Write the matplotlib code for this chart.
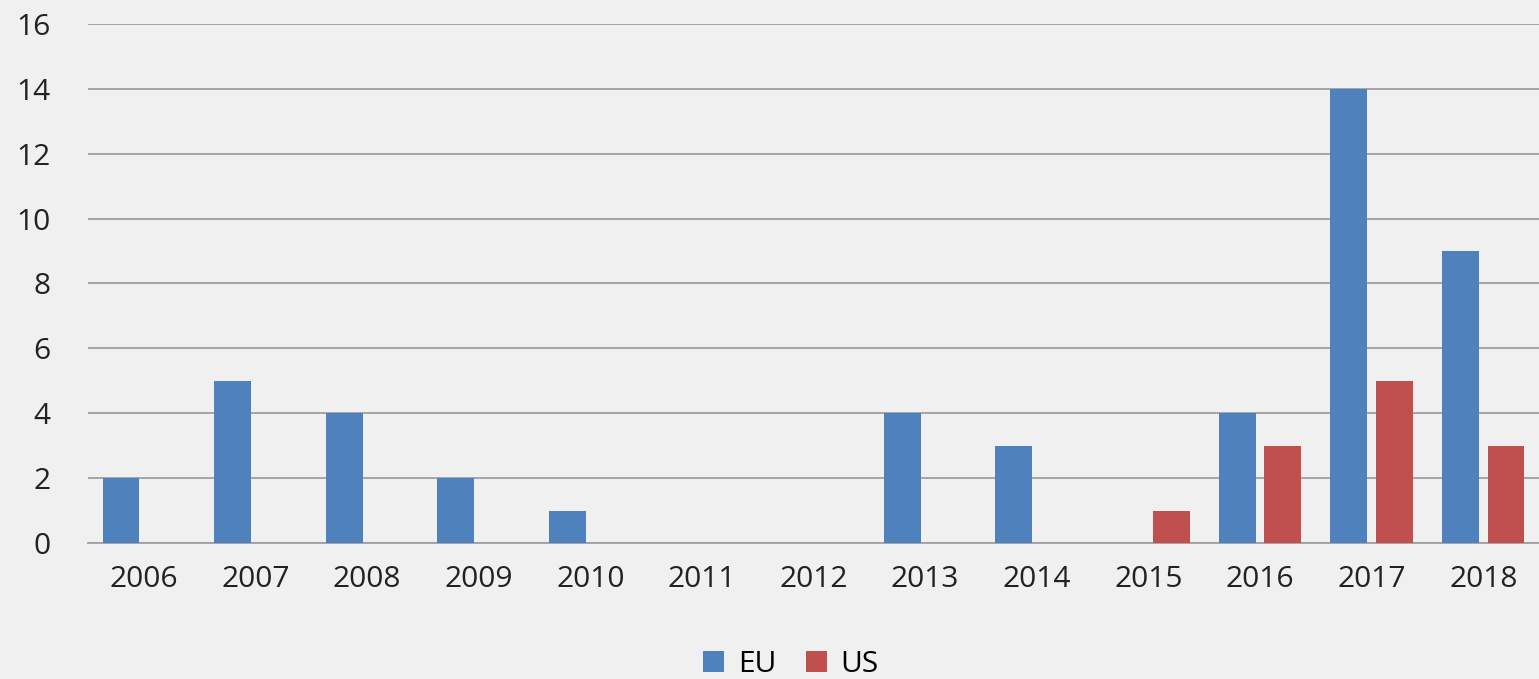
import matplotlib.pyplot as plt
import numpy as np

years = ['2006', '2007', '2008', '2009', '2010', '2011', '2012',
         '2013', '2014', '2015', '2016', '2017', '2018']
eu = [2, 5, 4, 2, 1, 0, 0, 4, 3, 0, 4, 14, 9]
us = [0, 0, 0, 0, 0, 0, 0, 0, 0, 1, 3, 5, 3]

plt.rcParams['font.family'] = ['Open Sans', 'DejaVu Sans']

bg = '#f0f0f0'
fig = plt.figure(figsize=(15.39, 6.79), dpi=100, facecolor=bg)
ax = fig.add_axes([0.0572, 0.2003, 0.9428, 0.7644], facecolor=bg)

x = np.arange(len(years))
w = 0.33
ax.bar(x - 0.205, eu, w, color='#4f81bd', label='EU', zorder=3)
ax.bar(x + 0.205, us, w, color='#c0504d', label='US', zorder=3)

ax.set_xlim(-0.5, len(years) - 0.5)
ax.set_ylim(0, 16)
ax.set_yticks(range(0, 17, 2))
ax.set_xticks(x)
ax.set_xticklabels(years)
ax.yaxis.grid(True, color='#a0a0a0', linewidth=1.3, zorder=0)
ax.tick_params(axis='both', length=0, labelsize=21.5, colors='#222222')
ax.tick_params(axis='x', pad=16)
ax.tick_params(axis='y', pad=27)
for s in ['left', 'right', 'top']:
    ax.spines[s].set_visible(False)
ax.spines['bottom'].set_color('#a0a0a0')
ax.spines['bottom'].set_linewidth(1.3)

fig.legend(loc='center', bbox_to_anchor=(0.514, 0.022), ncol=2, frameon=False,
           fontsize=21.5, handlelength=0.7, handleheight=0.7, handletextpad=0.45,
           columnspacing=1.0, bbox_transform=fig.transFigure)

fig.savefig('out.png', dpi=100, facecolor=bg)
